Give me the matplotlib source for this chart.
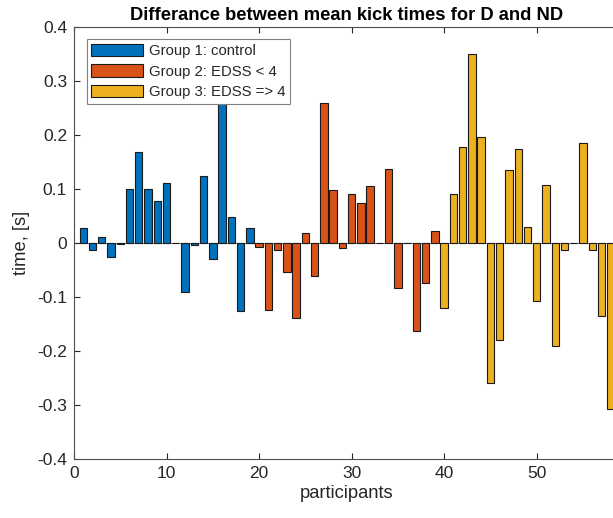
import matplotlib

matplotlib.use("Agg")
import matplotlib.pyplot as plt
from matplotlib.ticker import FuncFormatter

# per-participant difference of mean kick times D - ND, [s]
group1 = [0.027, -0.014, 0.010, -0.027, -0.002, 0.099, 0.168, 0.099, 0.078, 0.110,
          0.0, -0.092, -0.004, 0.124, -0.031, 0.270, 0.048, -0.126, 0.028]
group2 = [-0.008, -0.124, -0.014, -0.055, -0.139, 0.018, -0.062, 0.258, 0.097, -0.010,
          0.091, 0.074, 0.105, 0.0, 0.136, -0.084, 0.0, -0.164, -0.074, 0.022]
group3 = [-0.121, 0.091, 0.178, 0.350, 0.195, -0.260, -0.181, 0.135, 0.174, 0.030,
          -0.108, 0.107, -0.191, -0.014, 0.0, 0.184, -0.014, -0.135, -0.308]
labels = ["Group 1: control", "Group 2: EDSS < 4", "Group 3: EDSS => 4"]

BLUE = "#0072BD"
ORANGE = "#D95319"
YELLOW = "#EDB120"
TXT = "#262626"

plt.rcParams.update({
    "font.family": ["Liberation Sans", "DejaVu Sans"],
    "axes.unicode_minus": False,
    "text.color": TXT,
    "axes.labelcolor": TXT,
    "xtick.color": TXT,
    "ytick.color": TXT,
})

fig = plt.figure(figsize=(6.13, 5.18), dpi=100)
# axes runs slightly past the right edge of the canvas, like the cropped original
ax = fig.add_axes([74 / 613, 59.3 / 518, 546 / 613, 432 / 518])

start = 1
for vals, col, lab in zip([group1, group2, group3], [BLUE, ORANGE, YELLOW], labels):
    xs = list(range(start, start + len(vals)))
    ax.bar(xs, vals, width=0.8, color=col, edgecolor="#1a1a1a", lw=0.8, label=lab, zorder=2)
    start += len(vals)

ax.axhline(0, color="#7f7f7f", lw=0.8, zorder=1.5)

ax.set_xlim(0, 59)
ax.set_ylim(-0.4, 0.4)
ax.set_xticks(range(0, 51, 10))
ax.set_yticks([-0.4, -0.3, -0.2, -0.1, 0, 0.1, 0.2, 0.3, 0.4])
ax.yaxis.set_major_formatter(FuncFormatter(lambda v, _: f"{v:g}"))
ax.tick_params(direction="in", length=4, width=0.8, top=True, right=True,
               labelsize=12.5, pad=5)
for sp in ax.spines.values():
    sp.set_color("#4d4d4d")
    sp.set_linewidth(0.8)

ax.set_xlabel("participants", fontsize=13.2, labelpad=3)
ax.set_ylabel("time, [s]", fontsize=13.2, labelpad=5)
ax.set_title("Differance between mean kick times for D and ND",
             fontsize=13.2, fontweight="bold", color="black", pad=5)

leg = ax.legend(loc="upper left", fontsize=10.7, handlelength=3.5, handleheight=0.9,
                labelspacing=0.42, borderaxespad=0.85, handletextpad=0.4,
                borderpad=0.3, fancybox=False, framealpha=1.0)
leg.get_frame().set_edgecolor("#808080")
leg.get_frame().set_linewidth(0.8)
leg.set_zorder(5)

fig.savefig("out.png", dpi=100)
